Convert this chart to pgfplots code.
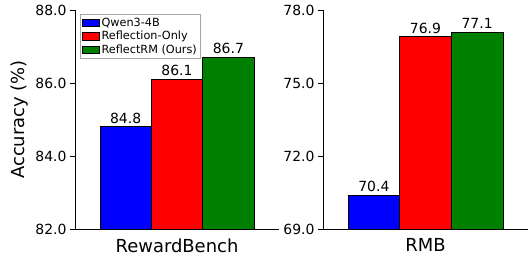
\documentclass[border=0pt]{standalone}
\usepackage{fontspec}
\setmainfont{DejaVu Sans}
\usepackage{pgfplots}
\pgfplotsset{compat=1.18}
\definecolor{mblue}{RGB}{0,0,255}
\definecolor{mred}{RGB}{255,0,0}
\definecolor{mgreen}{RGB}{0,128,0}
\newcommand{\legfont}{\fontsize{11.3}{13}\selectfont}
\begin{document}
\begin{tikzpicture}
\useasboundingbox (0,0) rectangle (528bp,260bp);
\pgfplotsset{
  common/.style={
    scale only axis, height=219bp,
    axis x line*=bottom, axis y line*=left,
    axis line style={line width=1bp},
    ybar, bar width=1, bar shift=0,
    xmin=-0.985, xmax=2.985,
    xtick={1},
    major x tick style={draw=none},
    ytick style={line width=0.8bp, black},
    tick align=outside, major tick length=5bp,
    /pgf/number format/assume math mode=true,
    yticklabel style={font=\fontsize{14}{16}\selectfont, /pgf/number format/fixed, /pgf/number format/fixed zerofill, /pgf/number format/precision=1},
    xticklabel style={font=\fontsize{18}{20}\selectfont, yshift=-1bp},
    nodes near coords,
    nodes near coords style={font=\fontsize{14}{16}\selectfont, /pgf/number format/fixed, /pgf/number format/fixed zerofill, /pgf/number format/precision=1, inner sep=1.5bp, yshift=1.5bp},
    every axis plot/.append style={draw=black, line width=0.8bp},
  }
}
\begin{axis}[common, at={(75bp,31bp)}, anchor=south west, width=204bp,
  ymin=82, ymax=88, ytick={82,84,86,88},
  xticklabels={RewardBench},
  ylabel={Accuracy (\%)},
  ylabel style={font=\fontsize{18}{20}\selectfont},
  legend style={at={(0.025,0.982)}, anchor=north west, draw=gray!70, line width=0.8bp,
    font=\legfont, inner sep=1.5bp, row sep=-0.5bp,
    cells={anchor=west}},
  legend image code/.code={\draw[#1, line width=0.6bp] (0bp,-3.8bp) rectangle (17bp,3.8bp);},
]
\addplot[fill=mblue] coordinates {(0,84.8)};
\addlegendentry{Qwen3-4B}
\addplot[fill=mred] coordinates {(1,86.1)};
\addlegendentry{Reflection-Only}
\addplot[fill=mgreen] coordinates {(2,86.7)};
\addlegendentry{ReflectRM (Ours)}
\end{axis}
\begin{axis}[common, at={(323bp,31bp)}, anchor=south west, width=205bp,
  ymin=69, ymax=78, ytick={69,72,75,78},
  xticklabels={RMB},
]
\addplot[fill=mblue] coordinates {(0,70.4)};
\addplot[fill=mred] coordinates {(1,76.9)};
\addplot[fill=mgreen] coordinates {(2,77.1)};
\end{axis}
\end{tikzpicture}
\end{document}
